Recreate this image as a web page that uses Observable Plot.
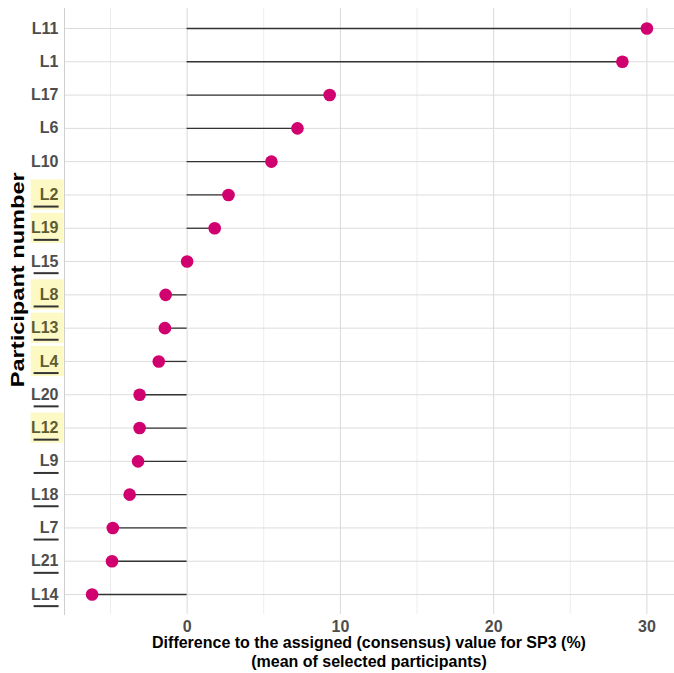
<!DOCTYPE html>
<html>
<head>
<meta charset="utf-8">
<script src="https://cdn.jsdelivr.net/npm/d3@7"></script>
<script src="https://cdn.jsdelivr.net/npm/@observablehq/plot@0.6"></script>
<style>
  html, body { margin: 0; padding: 0; background: #fff; }
  #wrap { width: 674px; font-family: "Liberation Sans", Arial, sans-serif; }
  #xtitle { padding-left: 64px; width: 610px; text-align: center; font-weight: bold; font-size: 16px; line-height: 19px; color: #000; margin-top: -3px; }
</style>
</head>
<body>
<div id="wrap">
  <div id="chart"></div>
  <div id="xtitle">Difference to the assigned (consensus) value for SP3 (%)<br>(mean of selected participants)</div>
</div>
<script>
const participants = ["L11","L1","L17","L6","L10","L2","L19","L15","L8","L13","L4","L20","L12","L9","L18","L7","L21","L14"];
const values = [30.0, 28.4, 9.3, 7.2, 5.5, 2.7, 1.8, 0.0, -1.4, -1.45, -1.85, -3.1, -3.1, -3.2, -3.75, -4.85, -4.9, -6.2];
const highlighted = ["L2","L19","L8","L13","L4","L12"];
const underlined = ["L2","L19","L15","L8","L13","L4","L20","L12","L9","L18","L7","L21","L14"];
const majorTicks = [0, 10, 20, 30];
const minorTicks = [-5, 5, 15, 25];
const yTitle = "Participant number";

const data = participants.map((p, i) => ({p, v: values[i]}));

const chart = Plot.plot({
  width: 674,
  height: 636,
  marginLeft: 64,
  marginRight: 0,
  marginTop: 8,
  marginBottom: 22,
  style: {fontFamily: "'Liberation Sans', Arial, sans-serif", background: "#fff"},
  x: {domain: [-8.0, 31.8]},
  y: {type: "point", domain: participants, padding: 0.6, round: false},
  marks: [
    Plot.ruleX(minorTicks, {stroke: "#ededed", strokeWidth: 1}),
    Plot.ruleX(majorTicks, {stroke: "#d9d9d9", strokeWidth: 1}),
    Plot.ruleY(participants, {stroke: "#dcdcdc", strokeWidth: 1}),
    Plot.frame({anchor: "left", stroke: "#cfcfcf"}),
    Plot.ruleY(data, {y: "p", x1: 0, x2: "v", stroke: "#333", strokeWidth: 1.3}),
    Plot.dot(data, {x: "v", y: "p", r: 6.3, fill: "#d1006f", stroke: "none"}),
    Plot.axisX(majorTicks, {tickSize: 0, tickPadding: 6, label: null, fontSize: 16, fontWeight: "bold", fill: "#4d4d4d"}),
    Plot.axisY({tickSize: 0, tickPadding: 6, label: null, fontSize: 16, fontWeight: "bold", fill: "#4d4d4d"})
  ]
});
document.getElementById("chart").appendChild(chart);

// decorate y tick labels: highlight boxes and underlines
const svg = d3.select(chart);
const yScale = chart.scale("y");
const step = yScale.step;
const ax = svg.select('g[aria-label="y-axis tick label"]');
const deco = svg.insert("g", 'g[aria-label="y-axis tick label"]');
ax.selectAll("text").each(function() {
  const t = d3.select(this);
  const label = t.text();
  const bb = this.getBBox();
  const m = this.getCTM();
  const right = m.e + bb.x + bb.width;
  const cy = m.f + bb.y + bb.height / 2;
  if (highlighted.includes(label)) {
    deco.append("rect")
      .attr("x", right - 28).attr("y", cy - step / 2 + 1.5)
      .attr("width", 33).attr("height", step - 3)
      .attr("fill", "#fdf9c4");
    t.attr("fill", "#5e5c33");
  }
  if (underlined.includes(label)) {
    svg.append("line")
      .attr("x1", right - 25).attr("x2", right)
      .attr("y1", cy + 12).attr("y2", cy + 12)
      .attr("stroke", "#333").attr("stroke-width", 2);
  }
});
// y-axis title
svg.append("text")
  .attr("transform", `translate(19,${yScale.apply("L19") + 52}) rotate(-90)`)
  .attr("text-anchor", "middle")
  .attr("dominant-baseline", "middle")
  .attr("font-size", 18).attr("font-weight", "bold").attr("fill", "#000")
  .attr("textLength", 215).attr("lengthAdjust", "spacingAndGlyphs")
  .text(yTitle);
</script>
</body>
</html>
